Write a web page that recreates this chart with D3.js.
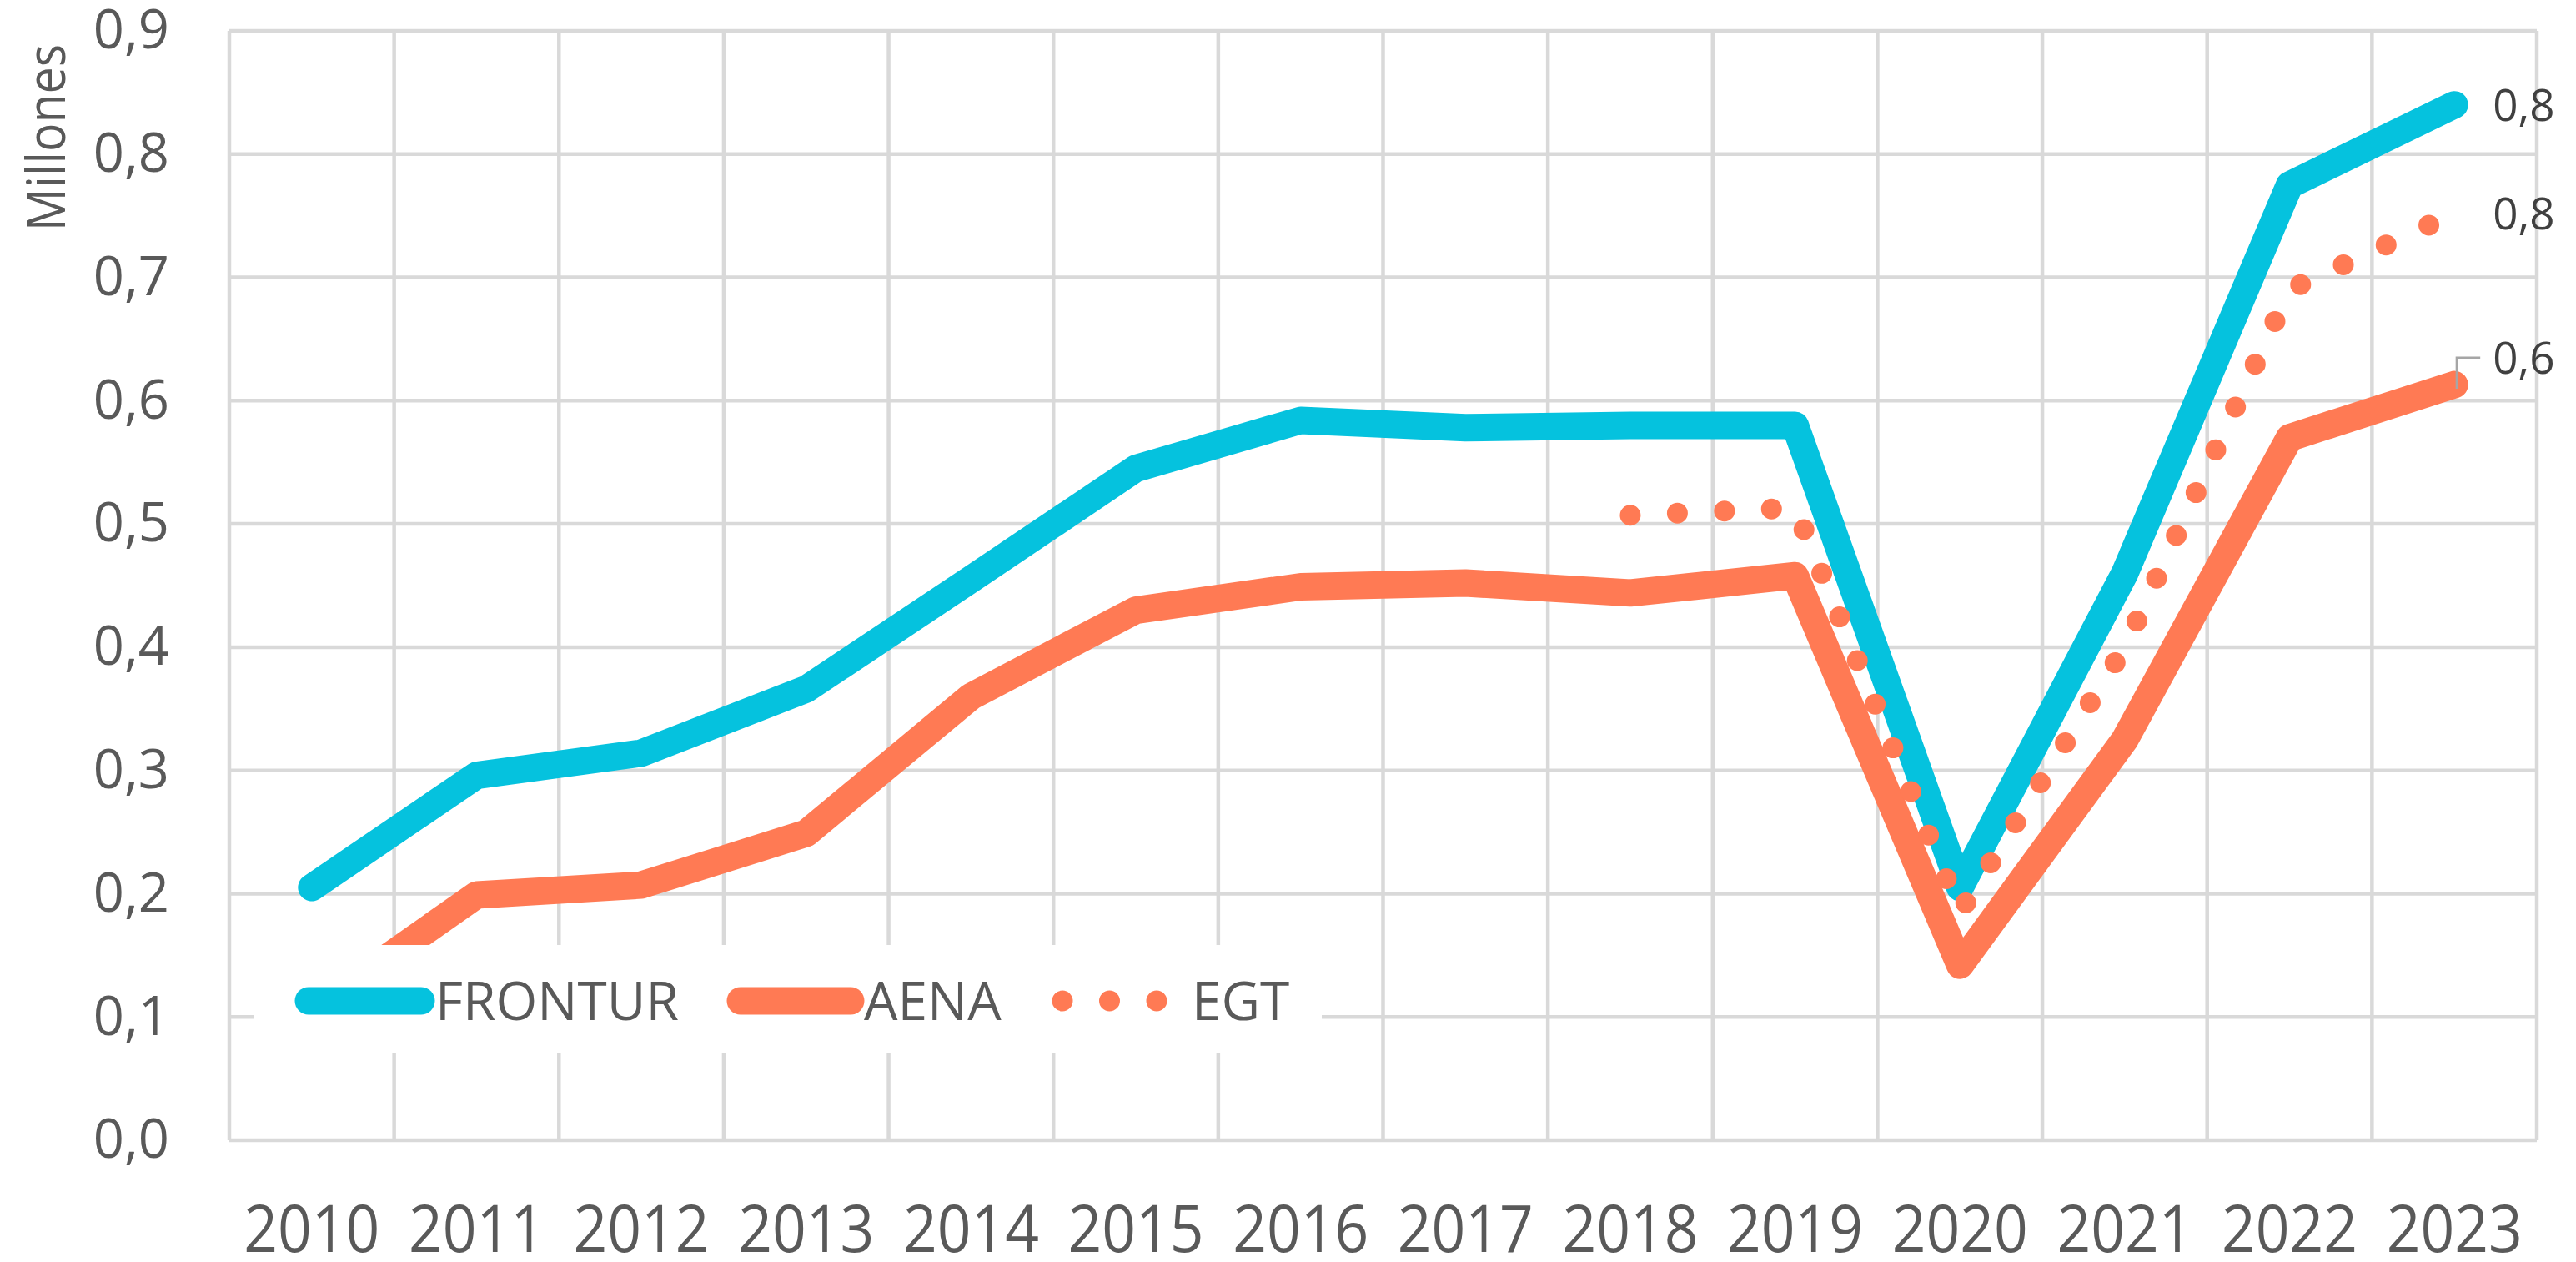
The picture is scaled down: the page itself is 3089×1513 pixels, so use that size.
<!DOCTYPE html>
<html>
<head>
<meta charset="utf-8">
<script src="https://cdn.jsdelivr.net/npm/d3@7"></script>
<style>
  html, body { margin: 0; padding: 0; background: #ffffff; }
  svg { display: block; }
  text { font-family: "Open Sans", "Noto Sans", sans-serif; }
</style>
</head>
<body>
<script>
// ---- data ----
const years = [2010, 2011, 2012, 2013, 2014, 2015, 2016, 2017, 2018, 2019, 2020, 2021, 2022, 2023];
const frontur = [0.205, 0.296, 0.314, 0.366, 0.455, 0.545, 0.584, 0.578, 0.580, 0.580, 0.205, 0.460, 0.775, 0.840];
const aena    = [0.105, 0.199, 0.207, 0.249, 0.360, 0.430, 0.449, 0.452, 0.444, 0.458, 0.142, 0.325, 0.570, 0.613];
const egt     = [null, null, null, null, null, null, null, null, 0.507, 0.513, 0.185, 0.400, 0.690, 0.752];
const seriesNames = ["FRONTUR", "AENA", "EGT"];
const yTicks = [0, 0.1, 0.2, 0.3, 0.4, 0.5, 0.6, 0.7, 0.8, 0.9];
const yAxisTitle = "Millones";

// ---- layout / style ----
const W = 3089, H = 1513;
const plot = { left: 275, right: 3042, top: 37, bottom: 1367 };
const colors = { FRONTUR: "#05C2DE", AENA: "#FF7A54", EGT: "#FF7A54" };
const grid = "#D9D9D9", textCol = "#595959";

const svg = d3.select("body").append("svg").attr("width", W).attr("height", H);

const x = d3.scaleBand().domain(years).range([plot.left, plot.right]).paddingInner(0).paddingOuter(0);
const xc = d => x(d) + x.bandwidth() / 2;
const y = d3.scaleLinear().domain([0, 0.9]).range([plot.bottom, plot.top]);
const fmt = v => d3.format(".1f")(v).replace(".", ",");

// gridlines
const g = svg.append("g");
g.selectAll("line.h").data(yTicks).join("line")
  .attr("x1", plot.left).attr("x2", plot.right)
  .attr("y1", d => y(d)).attr("y2", d => y(d))
  .attr("stroke", grid).attr("stroke-width", 4.5);
const vbounds = years.map(d => x(d)).concat([plot.right]);
g.selectAll("line.v").data(vbounds).join("line")
  .attr("x1", d => d).attr("x2", d => d)
  .attr("y1", plot.top).attr("y2", plot.bottom)
  .attr("stroke", grid).attr("stroke-width", 4.5);

// y axis labels
const yAxis = svg.append("g").attr("transform", `translate(${plot.left},0)`)
  .call(d3.axisLeft(y).tickValues(yTicks).tickSize(0).tickPadding(72).tickFormat(fmt));
yAxis.select(".domain").remove();
yAxis.selectAll("text").attr("font-size", 65).attr("fill", textCol)
  .style("font-family", '"Open Sans", sans-serif');

// x axis labels
const xAxis = svg.append("g").attr("transform", `translate(0,${plot.bottom})`)
  .call(d3.axisBottom(x).tickSize(0).tickPadding(79));
xAxis.select(".domain").remove();
xAxis.selectAll("text").attr("font-size", 78).attr("fill", textCol)
  .attr("textLength", 163).attr("lengthAdjust", "spacingAndGlyphs")
  .style("font-family", '"Open Sans", sans-serif');

// y title
svg.append("text")
  .attr("transform", "translate(78,165) rotate(-90)")
  .attr("text-anchor", "middle")
  .attr("font-size", 64).attr("fill", textCol)
  .attr("textLength", 224).attr("lengthAdjust", "spacingAndGlyphs")
  .text(yAxisTitle);

// lines
const line = d3.line().defined(d => d.v != null).x(d => xc(d.year)).y(d => y(d.v));
const mk = arr => years.map((yr, i) => ({ year: yr, v: arr[i] }));
const data = { FRONTUR: mk(frontur), AENA: mk(aena), EGT: mk(egt) };

svg.append("path").datum(data.FRONTUR).attr("d", line)
  .attr("fill", "none").attr("stroke", colors.FRONTUR).attr("stroke-width", 33)
  .attr("stroke-linecap", "round").attr("stroke-linejoin", "round");
svg.append("path").datum(data.AENA).attr("d", line)
  .attr("fill", "none").attr("stroke", colors.AENA).attr("stroke-width", 33)
  .attr("stroke-linecap", "round").attr("stroke-linejoin", "round");
svg.append("path").datum(data.EGT.filter(d => d.v != null)).attr("d", line)
  .attr("fill", "none").attr("stroke", colors.EGT).attr("stroke-width", 25)
  .attr("stroke-linecap", "round").attr("stroke-linejoin", "round")
  .attr("stroke-dasharray", "0 56.5");

// end labels
const last = years.length - 1;
const labelX = xc(years[last]) + 46;
const lab = svg.append("g").attr("font-size", 53).attr("fill", "#404040");
lab.append("text").attr("x", labelX).attr("y", y(frontur[last])).attr("dy", "0.36em").text(fmt(frontur[last]));
lab.append("text").attr("x", labelX).attr("y", y(egt[last])).attr("dy", "0.36em").text(fmt(egt[last]));
const aenaLabY = y(aena[last]) - 32;
lab.append("text").attr("x", labelX).attr("y", aenaLabY).attr("dy", "0.36em").text(fmt(aena[last]));
svg.append("path")
  .attr("d", `M${xc(years[last]) + 3},${y(aena[last]) + 5}V${aenaLabY}H${labelX - 15}`)
  .attr("fill", "none").attr("stroke", "#A6A6A6").attr("stroke-width", 3);

// legend
const leg = svg.append("g");
leg.append("rect").attr("x", 305).attr("y", 1133).attr("width", 1280).attr("height", 130).attr("fill", "#ffffff");
const legItems = [
  { name: seriesNames[0], x1: 370, x2: 505, tx: 522, dash: null, w: 33 },
  { name: seriesNames[1], x1: 888, x2: 1020, tx: 1036, dash: null, w: 33 },
  { name: seriesNames[2], x1: 1274, x2: 1388, tx: 1429, dash: "0 56.5", w: 25 }
];
legItems.forEach(it => {
  leg.append("line").attr("x1", it.x1).attr("x2", it.x2).attr("y1", 1200).attr("y2", 1200)
    .attr("stroke", colors[it.name]).attr("stroke-width", it.w).attr("stroke-linecap", "round")
    .attr("stroke-dasharray", it.dash);
  leg.append("text").attr("x", it.tx).attr("y", 1200).attr("dy", "0.36em")
    .attr("font-size", 64).attr("fill", textCol).text(it.name);
});
</script>
</body>
</html>
